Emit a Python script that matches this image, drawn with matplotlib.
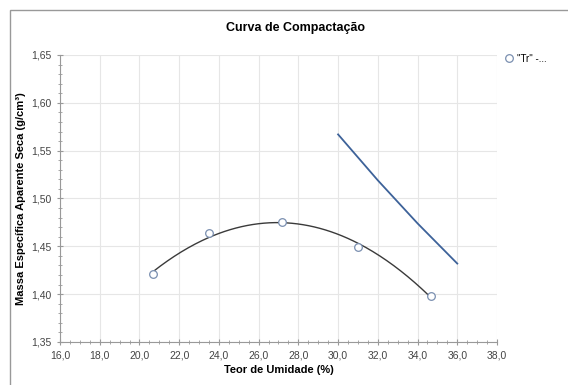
import numpy as np
import matplotlib.pyplot as plt
from matplotlib.ticker import FuncFormatter, MultipleLocator
from matplotlib.patches import Rectangle

# Pontos do ensaio de compactação
umidade = [20.7, 23.5, 27.2, 31.0, 34.7]
massa = [1.421, 1.464, 1.475, 1.449, 1.398]

# Curva de saturação
umid_sat = [30.0, 32.0, 34.0, 36.0]
massa_sat = [1.567, 1.519, 1.474, 1.432]

plt.rcParams['font.family'] = ['Liberation Sans', 'DejaVu Sans']

fig = plt.figure(figsize=(5.68, 3.85), dpi=100)
W, H = 568, 385
ax = fig.add_axes([60 / W, 1 - 342 / H, (497 - 60) / W, (342 - 55) / H])

# linha de tendência polinomial
coef = np.polyfit(umidade, massa, 2)
xf = np.linspace(min(umidade), max(umidade), 200)
ax.plot(xf, np.polyval(coef, xf), color='#3a3a3a', lw=1.0, zorder=3)

ax.plot(umid_sat, massa_sat, color='#3d6299', lw=1.3, zorder=3)
ax.plot(umidade, massa, 'o', mfc='white', mec='#7a8fb0', mew=0.9, ms=5.5,
        zorder=4, label='"Tr" -...')

ax.set_xlim(16, 38)
ax.set_ylim(1.35, 1.65)
ax.xaxis.set_major_locator(MultipleLocator(2))
ax.xaxis.set_minor_locator(MultipleLocator(0.5))
ax.yaxis.set_major_locator(MultipleLocator(0.05))
ax.yaxis.set_minor_locator(MultipleLocator(0.01))
ax.xaxis.set_major_formatter(FuncFormatter(lambda v, p: f'{v:.1f}'.replace('.', ',')))
ax.yaxis.set_major_formatter(FuncFormatter(lambda v, p: f'{v:.2f}'.replace('.', ',')))

ax.grid(True, which='major', color='#e6e6e6', lw=0.8)
ax.set_axisbelow(True)
for s in ['top', 'right']:
    ax.spines[s].set_visible(False)
for s in ['left', 'bottom']:
    ax.spines[s].set_color('#999999')
    ax.spines[s].set_linewidth(0.8)
ax.tick_params(which='both', direction='inout', colors='#999999', labelcolor='#444444',
               labelsize=7.5)
ax.tick_params(which='major', length=5, width=0.8)
ax.tick_params(which='minor', length=3, width=0.6)

ax.set_xlabel('Teor de Umidade (%)', fontsize=8, fontweight='bold')
ax.set_ylabel('Massa Específica Aparente Seca (g/cm³)', fontsize=8, fontweight='bold')
ax.xaxis.set_label_coords(0.5, -0.08)
ax.yaxis.set_label_coords(-0.078, 0.5)
fig.text(295 / W, 1 - 28 / H, 'Curva de Compactação', ha='center', va='center',
         fontsize=9, fontweight='bold')

ax.legend(loc='upper left', bbox_to_anchor=(499 / W, 1 - 50 / H),
          bbox_transform=fig.transFigure, frameon=False, fontsize=7,
          handletextpad=0.3, handlelength=1.2, borderaxespad=0)

fig.patches.append(Rectangle((10 / W, -0.1), 1.2, 1 - 10 / H + 0.1,
                             transform=fig.transFigure, fill=False,
                             edgecolor='#999999', lw=1))

fig.savefig('out.png', dpi=100)
